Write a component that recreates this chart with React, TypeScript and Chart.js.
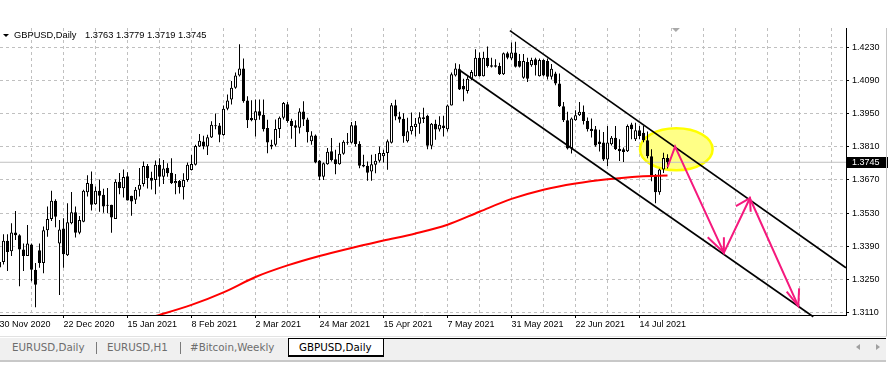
import React, { useEffect, useRef } from 'react';
import { Chart, registerables } from 'chart.js';

Chart.register(...registerables);

// ---------- data ----------
const symbolTitle = 'GBPUSD,Daily';
const lastBarText = '1.3763 1.3779 1.3719 1.3745';
const tabNames = ['EURUSD,Daily', 'EURUSD,H1', '#Bitcoin,Weekly', 'GBPUSD,Daily'];

const dateTickBars = [0, 16, 32, 48, 64, 80, 96, 112, 128, 144, 160];
const dateTickLabels = ['30 Nov 2020', '22 Dec 2020', '15 Jan 2021', '8 Feb 2021', '2 Mar 2021', '24 Mar 2021', '15 Apr 2021', '7 May 2021', '31 May 2021', '22 Jun 2021', '14 Jul 2021'];
const gridBars = [0, 8, 16, 24, 32, 40, 48, 56, 64, 72, 80, 88, 96, 104, 112, 120, 128, 136, 144, 152, 160, 168, 176, 184, 192, 200, 208];
const priceTicks = [1.311, 1.325, 1.339, 1.353, 1.367, 1.381, 1.395, 1.409, 1.423];

const openPrices = [
  1.3300, 1.3323, 1.3413, 1.3369, 1.3448, 1.3436, 1.3376, 1.3349,
  1.3397, 1.3291, 1.3373, 1.3319, 1.3458, 1.3505, 1.3582, 1.3402,
  1.3465, 1.3352, 1.3487, 1.3534, 1.3447, 1.3494, 1.3618, 1.3654,
  1.3568, 1.3625, 1.3608, 1.3565, 1.3565, 1.3505, 1.3663, 1.3635,
  1.3686, 1.3603, 1.3586, 1.3629, 1.3653, 1.3729, 1.3680, 1.3670,
  1.3734, 1.3684, 1.3722, 1.3701, 1.3656, 1.3666, 1.3639, 1.3670,
  1.3712, 1.3734, 1.3812, 1.3833, 1.3812, 1.3850, 1.3900, 1.3900,
  1.3860, 1.3971, 1.4010, 1.4060, 1.4112, 1.4141, 1.4006, 1.3932,
  1.3922, 1.3961, 1.3946, 1.3890, 1.3812, 1.3819, 1.3886, 1.3933,
  1.3990, 1.3919, 1.3901, 1.3891, 1.3959, 1.3926, 1.3834, 1.3858,
  1.3752, 1.3684, 1.3737, 1.3791, 1.3758, 1.3737, 1.3781, 1.3832,
  1.3827, 1.3901, 1.3822, 1.3734, 1.3730, 1.3706, 1.3734, 1.3751,
  1.3770, 1.3784, 1.3827, 1.3986, 1.3938, 1.3929, 1.3834, 1.3876,
  1.3894, 1.3908, 1.3935, 1.3942, 1.3815, 1.3908, 1.3883, 1.3900,
  1.3885, 1.3985, 1.4112, 1.4138, 1.4067, 1.4046, 1.4098, 1.4109,
  1.4187, 1.4109, 1.4187, 1.4155, 1.4155, 1.4152, 1.4117, 1.4206,
  1.4183, 1.4209, 1.4173, 1.4102, 1.4169, 1.4155, 1.4180, 1.4109,
  1.4177, 1.4173, 1.4106, 1.4120, 1.4078, 1.3982, 1.3923, 1.3803,
  1.3923, 1.3944, 1.3958, 1.3919, 1.3887, 1.3884, 1.3833, 1.3828,
  1.3757, 1.3821, 1.3849, 1.3802, 1.3800, 1.3792, 1.3905, 1.3842,
  1.3880, 1.3870, 1.3838, 1.3770, 1.3689, 1.3618, 1.3714, 1.3763,
];
const highPrices = [
  1.3345, 1.3441, 1.3441, 1.3487, 1.3539, 1.3441, 1.3402, 1.3480,
  1.3402, 1.3319, 1.3402, 1.3473, 1.3558, 1.3625, 1.3589, 1.3501,
  1.3508, 1.3572, 1.3619, 1.3558, 1.3518, 1.3629, 1.3690, 1.3706,
  1.3643, 1.3672, 1.3633, 1.3636, 1.3565, 1.3672, 1.3700, 1.3714,
  1.3703, 1.3603, 1.3640, 1.3721, 1.3748, 1.3738, 1.3705, 1.3752,
  1.3762, 1.3755, 1.3741, 1.3762, 1.3695, 1.3670, 1.3698, 1.3744,
  1.3776, 1.3819, 1.3864, 1.3857, 1.3861, 1.3918, 1.3951, 1.3911,
  1.3985, 1.4031, 1.4088, 1.4124, 1.4244, 1.4183, 1.4024, 1.4007,
  1.4010, 1.4010, 1.4010, 1.3925, 1.3840, 1.3926, 1.3938, 1.4000,
  1.4000, 1.3929, 1.3923, 1.3973, 1.4003, 1.3933, 1.3876, 1.3862,
  1.3755, 1.3744, 1.3805, 1.3848, 1.3798, 1.3827, 1.3838, 1.3869,
  1.3915, 1.3919, 1.3834, 1.3777, 1.3748, 1.3777, 1.3780, 1.3812,
  1.3798, 1.3841, 1.3995, 1.4009, 1.3958, 1.3952, 1.3933, 1.3955,
  1.3932, 1.3956, 1.3975, 1.3946, 1.3911, 1.3925, 1.3939, 1.3942,
  1.3989, 1.4124, 1.4163, 1.4159, 1.4098, 1.4109, 1.4135, 1.4223,
  1.4209, 1.4212, 1.4234, 1.4187, 1.4180, 1.4166, 1.4209, 1.4212,
  1.4251, 1.4254, 1.4202, 1.4202, 1.4187, 1.4187, 1.4187, 1.4183,
  1.4180, 1.4183, 1.4160, 1.4127, 1.4120, 1.4000, 1.3958, 1.3934,
  1.3965, 1.4000, 1.3985, 1.3934, 1.3930, 1.3898, 1.3882, 1.3873,
  1.3898, 1.3856, 1.3898, 1.3842, 1.3807, 1.3905, 1.3912, 1.3912,
  1.3898, 1.3898, 1.3875, 1.3800, 1.3695, 1.3718, 1.3785, 1.3779,
];
const lowPrices = [
  1.3285, 1.3313, 1.3285, 1.3349, 1.3416, 1.3221, 1.3285, 1.3349,
  1.3242, 1.3132, 1.3299, 1.3276, 1.3430, 1.3497, 1.3470, 1.3184,
  1.3299, 1.3349, 1.3483, 1.3427, 1.3441, 1.3491, 1.3600, 1.3541,
  1.3565, 1.3536, 1.3532, 1.3529, 1.3447, 1.3505, 1.3610, 1.3596,
  1.3583, 1.3519, 1.3569, 1.3600, 1.3642, 1.3634, 1.3630, 1.3610,
  1.3642, 1.3653, 1.3684, 1.3653, 1.3610, 1.3613, 1.3588, 1.3663,
  1.3710, 1.3731, 1.3809, 1.3800, 1.3776, 1.3847, 1.3885, 1.3830,
  1.3857, 1.3965, 1.3989, 1.4056, 1.4107, 1.3996, 1.3890, 1.3918,
  1.3854, 1.3925, 1.3875, 1.3783, 1.3800, 1.3812, 1.3848, 1.3926,
  1.3912, 1.3844, 1.3809, 1.3866, 1.3898, 1.3829, 1.3819, 1.3741,
  1.3670, 1.3670, 1.3734, 1.3748, 1.3694, 1.3734, 1.3777, 1.3819,
  1.3824, 1.3812, 1.3720, 1.3724, 1.3667, 1.3667, 1.3698, 1.3744,
  1.3744, 1.3713, 1.3824, 1.3923, 1.3912, 1.3827, 1.3829, 1.3862,
  1.3854, 1.3865, 1.3911, 1.3800, 1.3800, 1.3840, 1.3875, 1.3854,
  1.3875, 1.3985, 1.4107, 1.4050, 1.4003, 1.4036, 1.4092, 1.4107,
  1.4107, 1.4107, 1.4145, 1.4145, 1.4145, 1.4114, 1.4114, 1.4180,
  1.4177, 1.4145, 1.4145, 1.4098, 1.4084, 1.4149, 1.4112, 1.4107,
  1.4109, 1.4095, 1.4095, 1.4070, 1.3979, 1.3915, 1.3799, 1.3782,
  1.3920, 1.3940, 1.3905, 1.3875, 1.3850, 1.3811, 1.3790, 1.3750,
  1.3729, 1.3816, 1.3797, 1.3750, 1.3746, 1.3788, 1.3842, 1.3835,
  1.3842, 1.3830, 1.3762, 1.3665, 1.3572, 1.3608, 1.3700, 1.3719,
];
const closePrices = [
  1.3323, 1.3413, 1.3366, 1.3448, 1.3437, 1.3376, 1.3349, 1.3402,
  1.3291, 1.3227, 1.3319, 1.3458, 1.3505, 1.3582, 1.3515, 1.3461,
  1.3356, 1.3491, 1.3534, 1.3447, 1.3501, 1.3625, 1.3657, 1.3565,
  1.3625, 1.3603, 1.3558, 1.3561, 1.3512, 1.3663, 1.3635, 1.3683,
  1.3583, 1.3579, 1.3629, 1.3650, 1.3729, 1.3677, 1.3667, 1.3734,
  1.3684, 1.3719, 1.3698, 1.3656, 1.3666, 1.3639, 1.3670, 1.3734,
  1.3738, 1.3814, 1.3836, 1.3812, 1.3851, 1.3904, 1.3897, 1.3861,
  1.3971, 1.4006, 1.4060, 1.4112, 1.4141, 1.4003, 1.3922, 1.3922,
  1.3961, 1.3942, 1.3885, 1.3829, 1.3819, 1.3886, 1.3933, 1.3995,
  1.3919, 1.3898, 1.3891, 1.3959, 1.3926, 1.3872, 1.3858, 1.3744,
  1.3684, 1.3741, 1.3789, 1.3755, 1.3737, 1.3781, 1.3832, 1.3827,
  1.3901, 1.3822, 1.3730, 1.3727, 1.3701, 1.3737, 1.3751, 1.3784,
  1.3784, 1.3834, 1.3986, 1.3938, 1.3926, 1.3855, 1.3876, 1.3898,
  1.3908, 1.3935, 1.3928, 1.3815, 1.3908, 1.3883, 1.3904, 1.3890,
  1.3985, 1.4117, 1.4141, 1.4053, 1.4053, 1.4098, 1.4126, 1.4187,
  1.4109, 1.4187, 1.4152, 1.4149, 1.4149, 1.4117, 1.4206, 1.4187,
  1.4209, 1.4149, 1.4149, 1.4173, 1.4098, 1.4177, 1.4155, 1.4177,
  1.4112, 1.4106, 1.4140, 1.4078, 1.3982, 1.3923, 1.3803, 1.3930,
  1.3944, 1.3958, 1.3919, 1.3884, 1.3877, 1.3816, 1.3822, 1.3757,
  1.3828, 1.3849, 1.3800, 1.3792, 1.3788, 1.3898, 1.3884, 1.3880,
  1.3856, 1.3838, 1.3770, 1.3689, 1.3618, 1.3714, 1.3763, 1.3745,
];

// moving average (red), sampled every 8 bars
const maBars = [36, 40, 48, 56, 64, 72, 80, 88, 96, 104, 112, 120, 128, 136, 144, 152, 160, 167];
const maValues = [1.3081, 1.3100, 1.3142, 1.3195, 1.3260, 1.3309, 1.3349, 1.3383, 1.3414, 1.3444, 1.3481, 1.3536, 1.3590, 1.3629, 1.3655, 1.3673, 1.3685, 1.3689];

// trend channel
const upperChannelBars = [127.6, 211.6];
const upperChannelPrices = [1.4301, 1.3299];
const lowerChannelBars = [114.7, 203.45];
const lowerChannelPrices = [1.4138, 1.3092];

// forecast zigzag (pink) and its arrow heads
const forecastBars = [167, 168.9, 181.1, 187.6, 199.7];
const forecastPrices = [1.3724, 1.3811, 1.3363, 1.3593, 1.3137];
const arrowHeadBars = [[177.05, 181.1, 181.1], [184.1, 187.6, 187.8], [196.8, 199.7, 199.9]];
const arrowHeadPrices = [[1.3428, 1.3363, 1.3428], [1.3560, 1.3593, 1.3536], [1.3198, 1.3137, 1.3212]];

// highlight ellipse
const ellipseCenterBar = 169.2;
const ellipseCenterPrice = 1.3800;
const ellipseRadiusBars = 9.08;
const ellipseRadiusPrice = 0.00888;

const lastClose = 1.3745;
const shiftMarkerBar = 169.1;

// ---------- styles ----------
const AXIS_FONT = '"Liberation Sans", Arial, sans-serif';
const GRID = '#c0c0c0';
const PINK = 'rgb(245,25,125)';

const mtPlugin = {
  id: 'mtOverlay',
  beforeDatasetsDraw(chart: any) {
    const { ctx, scales } = chart;
    const x = scales.x;
    const y = scales.y;
    const cx = x.getPixelForValue(ellipseCenterBar);
    const cy = y.getPixelForValue(ellipseCenterPrice);
    const rx = Math.abs(x.getPixelForValue(ellipseCenterBar + ellipseRadiusBars) - cx);
    const ry = Math.abs(y.getPixelForValue(ellipseCenterPrice + ellipseRadiusPrice) - cy);
    ctx.save();
    ctx.beginPath();
    ctx.ellipse(cx, cy, rx, ry, 0, 0, Math.PI * 2);
    ctx.fillStyle = '#ffff86';
    ctx.fill();
    ctx.lineWidth = 2.5;
    ctx.strokeStyle = '#ffff00';
    ctx.stroke();
    ctx.restore();
  },
  afterDraw(chart: any) {
    const { ctx, scales, chartArea } = chart;
    const x = scales.x;
    const y = scales.y;
    const py = y.getPixelForValue(lastClose);
    ctx.save();
    ctx.fillStyle = '#000';
    ctx.fillRect(chartArea.right + 1, Math.round(py) - 5, 42, 11);
    ctx.fillStyle = '#fff';
    ctx.font = '9px ' + AXIS_FONT;
    ctx.textBaseline = 'middle';
    ctx.textAlign = 'left';
    ctx.fillText(lastClose.toFixed(4), chartArea.right + 6, Math.round(py) + 0.5);
    const sx = x.getPixelForValue(shiftMarkerBar);
    ctx.fillStyle = '#a9a9a9';
    ctx.beginPath();
    ctx.moveTo(sx - 4, chartArea.top);
    ctx.lineTo(sx + 4, chartArea.top);
    ctx.lineTo(sx, chartArea.top + 4);
    ctx.closePath();
    ctx.fill();
    ctx.restore();
  },
};

function CandleChart() {
  const ref = useRef<HTMLCanvasElement | null>(null);

  useEffect(() => {
    if (!ref.current) return;
    const bars = openPrices.map((_, i) => i);
    const wickData = bars.map((i) => ({ x: i, y: [lowPrices[i], highPrices[i]] }));
    const bodyData = bars.map((i) => ({ x: i, y: [openPrices[i], closePrices[i]] }));
    const bodyColors = bars.map((i) => (closePrices[i] >= openPrices[i] ? '#ffffff' : '#000000'));
    const line = (xs: number[], ys: number[]) => xs.map((v, k) => ({ x: v, y: ys[k] }));

    const chart = new Chart(ref.current, {
      type: 'line',
      data: {
        datasets: [
          {
            type: 'line',
            label: 'bid',
            data: [{ x: 0.125, y: lastClose }, { x: 211.625, y: lastClose }],
            borderColor: GRID,
            borderWidth: 1,
            pointRadius: 0,
            order: 10,
          },
          {
            type: 'bar',
            label: 'wicks',
            data: wickData,
            backgroundColor: '#000',
            borderWidth: 0,
            barThickness: 1,
            maxBarThickness: 1,
            grouped: false,
            minBarLength: 1,
            inflateAmount: 0,
            order: 9,
          },
          {
            type: 'bar',
            label: 'bodies',
            data: bodyData,
            backgroundColor: bodyColors,
            borderColor: '#000',
            borderWidth: 1,
            borderSkipped: false,
            barThickness: 3,
            maxBarThickness: 3,
            grouped: false,
            minBarLength: 1,
            inflateAmount: 0,
            order: 8,
          },
          {
            type: 'line',
            label: 'MA',
            data: line(maBars, maValues),
            borderColor: '#ff0000',
            borderWidth: 2,
            pointRadius: 0,
            cubicInterpolationMode: 'monotone',
            order: 7,
          },
          {
            type: 'line',
            label: 'upper channel',
            data: line(upperChannelBars, upperChannelPrices),
            borderColor: '#000',
            borderWidth: 1.6,
            pointRadius: 0,
            order: 6,
          },
          {
            type: 'line',
            label: 'lower channel',
            data: line(lowerChannelBars, lowerChannelPrices),
            borderColor: '#000',
            borderWidth: 1.6,
            pointRadius: 0,
            clip: 4,
            order: 6,
          },
          {
            type: 'line',
            label: 'forecast',
            data: line(forecastBars, forecastPrices),
            borderColor: PINK,
            borderWidth: 2,
            pointRadius: 0,
            order: 5,
          },
          ...arrowHeadBars.map((xs, k) => ({
            type: 'line',
            label: 'arrow' + k,
            data: line(xs, arrowHeadPrices[k]),
            borderColor: PINK,
            borderWidth: 2,
            pointRadius: 0,
            order: 5,
          })),
        ] as any,
      },
      options: {
        responsive: false,
        maintainAspectRatio: false,
        animation: false,
        devicePixelRatio: 1,
        events: [],
        layout: { padding: { top: 28, left: 0, right: 0, bottom: 0 } },
        plugins: { legend: { display: false }, tooltip: { enabled: false }, title: { display: false } },
        scales: {
          x: {
            type: 'linear',
            position: 'bottom',
            min: 0.125,
            max: 211.625,
            offset: false,
            afterBuildTicks: (s: any) => {
              s.ticks = gridBars.map((v) => ({ value: v }));
            },
            afterFit: (s: any) => {
              s.height = 21;
              s.paddingLeft = 0;
              s.paddingRight = 0;
            },
            ticks: {
              autoSkip: false,
              maxRotation: 0,
              minRotation: 0,
              align: 'start',
              padding: 1,
              color: '#000',
              font: { family: AXIS_FONT, size: 9 },
              callback: (v: any) => {
                const k = dateTickBars.indexOf(Number(v));
                return k >= 0 ? dateTickLabels[k] : '';
              },
            },
            grid: {
              color: GRID,
              lineWidth: 1,
              offset: false,
              drawTicks: true,
              tickLength: 3,
              tickWidth: 1,
              tickColor: (c: any) => (c.tick && dateTickBars.includes(c.tick.value) ? '#000' : 'rgba(0,0,0,0)'),
            },
            border: { display: true, color: '#000', width: 1, dash: [3, 3] },
          },
          y: {
            type: 'linear',
            position: 'right',
            min: 1.309943,
            max: 1.431241,
            afterBuildTicks: (s: any) => {
              s.ticks = priceTicks.map((v) => ({ value: v }));
            },
            afterFit: (s: any) => {
              s.width = 42;
              s.paddingTop = 0;
              s.paddingBottom = 0;
            },
            ticks: {
              autoSkip: false,
              padding: 3,
              color: '#000',
              font: { family: AXIS_FONT, size: 9 },
              callback: (v: any) => Number(v).toFixed(4),
            },
            grid: {
              color: GRID,
              lineWidth: 1,
              drawTicks: true,
              tickLength: 3,
              tickWidth: 1,
              tickColor: '#000',
            },
            border: { display: true, color: '#000', width: 1, dash: [3, 3] },
          },
        },
      } as any,
      plugins: [mtPlugin],
    });
    return () => chart.destroy();
  }, []);

  return (
    <canvas
      ref={ref}
      width={888}
      height={336}
      style={{ position: 'absolute', left: 0, top: 0, width: 888, height: 336 }}
    />
  );
}

const tabFont = '"DejaVu Sans", Verdana, sans-serif';
const tabLefts = [12, 107, 190, 299];

export default function App() {
  return (
    <div
      style={{
        position: 'absolute',
        left: 0,
        top: 0,
        width: 888,
        height: 384,
        background: '#fff',
        overflow: 'hidden',
      }}
    >
      <CandleChart />
      {/* title */}
      <div
        style={{
          position: 'absolute',
          left: 3,
          top: 34,
          width: 0,
          height: 0,
          borderLeft: '3px solid transparent',
          borderRight: '3px solid transparent',
          borderTop: '3px solid #000',
        }}
      />
      <div
        style={{
          position: 'absolute',
          left: 14,
          top: 30,
          fontFamily: AXIS_FONT,
          fontSize: 9.3,
          lineHeight: '11px',
          color: '#000',
          whiteSpace: 'pre',
        }}
      >
        {symbolTitle}
      </div>
      <div
        style={{
          position: 'absolute',
          left: 85,
          top: 30,
          fontFamily: AXIS_FONT,
          fontSize: 9.3,
          lineHeight: '11px',
          color: '#000',
          whiteSpace: 'pre',
        }}
      >
        {lastBarText}
      </div>
      {/* window frame */}
      <div style={{ position: 'absolute', left: 886, top: 28, width: 1, height: 309, background: '#c4c4c4' }} />
      <div style={{ position: 'absolute', left: 0, top: 336, width: 887, height: 1, background: '#e2e2e2' }} />
      {/* tab bar */}
      <div style={{ position: 'absolute', left: 0, top: 338, width: 886, height: 22, background: '#f0f0f0' }} />
      <div style={{ position: 'absolute', left: 0, top: 360, width: 886, height: 2, background: '#c8c8c8' }} />
      <div style={{ position: 'absolute', left: 288, top: 338, width: 598, height: 1, background: '#000' }} />
      <div
        style={{
          position: 'absolute',
          left: 288,
          top: 338,
          width: 94,
          height: 16,
          background: '#fff',
          borderLeft: '1px solid #000',
          borderRight: '1px solid #000',
          borderTop: '1px solid #000',
          borderBottom: '2px solid #000',
        }}
      />
      <div style={{ position: 'absolute', left: 96, top: 342, width: 1, height: 12, background: '#7a7a7a' }} />
      <div style={{ position: 'absolute', left: 180, top: 342, width: 1, height: 12, background: '#7a7a7a' }} />
      {tabNames.map((t, k) => (
        <div
          key={t + k}
          style={{
            position: 'absolute',
            left: tabLefts[k],
            top: 341,
            fontFamily: tabFont,
            fontSize: 10.3,
            lineHeight: '13px',
            color: k === tabNames.length - 1 ? '#000' : '#6d6d6d',
            whiteSpace: 'pre',
          }}
        >
          {t}
        </div>
      ))}
      <div
        style={{
          position: 'absolute',
          left: 856,
          top: 344,
          width: 0,
          height: 0,
          borderTop: '3.5px solid transparent',
          borderBottom: '3.5px solid transparent',
          borderRight: '4px solid #a0a0a0',
        }}
      />
      <div
        style={{
          position: 'absolute',
          left: 876,
          top: 344,
          width: 0,
          height: 0,
          borderTop: '3.5px solid transparent',
          borderBottom: '3.5px solid transparent',
          borderLeft: '4px solid #a0a0a0',
        }}
      />
    </div>
  );
}
